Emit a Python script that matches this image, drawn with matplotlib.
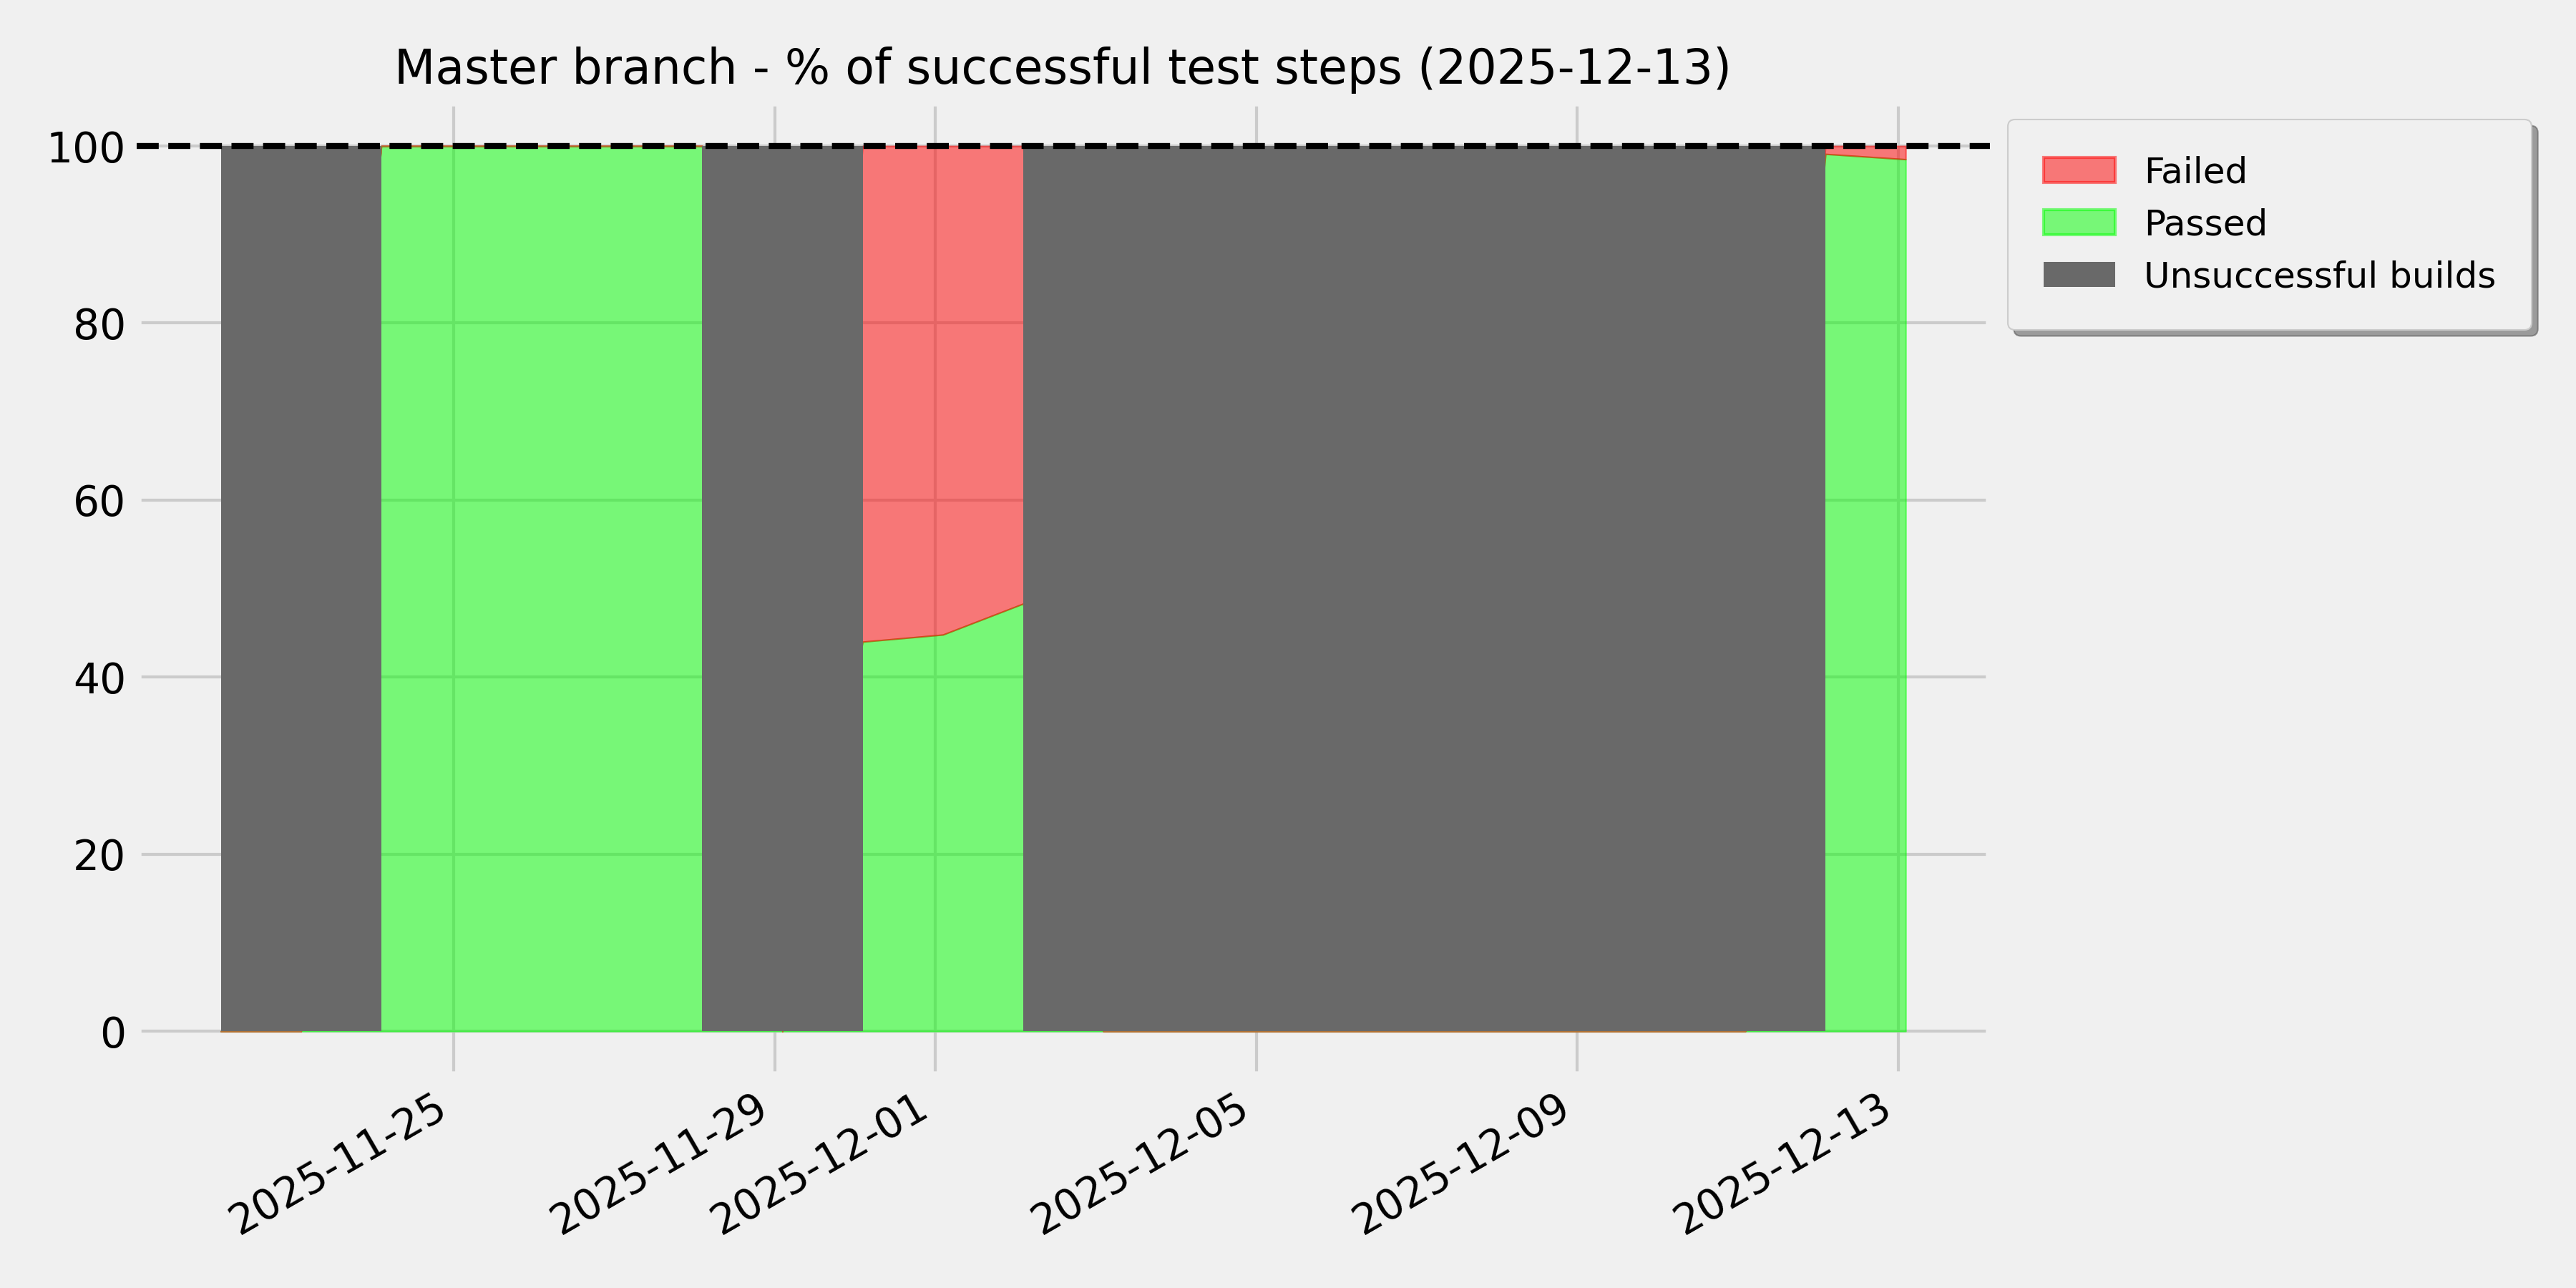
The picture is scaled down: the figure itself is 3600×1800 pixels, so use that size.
import matplotlib
matplotlib.use("Agg")
import matplotlib.pyplot as plt
import matplotlib.patches as mpatches
import pandas as pd

# daily build results, master branch
dates = pd.date_range("2025-11-22 02:15", "2025-12-13 02:15", freq="D")
build_ok = [0, 0, 1, 1, 1, 1, 1, 0, 1, 1, 1, 0, 0, 0, 0, 0, 0, 0, 0, 0, 1, 1]
passed = [0, 0, 100, 100, 100, 100, 100, 0, 44.0, 44.8, 48.3,
          0, 0, 0, 0, 0, 0, 0, 0, 0, 99.1, 98.5]
failed = [0, 0, 0, 0, 0, 0, 0, 0, 56.0, 55.2, 51.7,
          0, 0, 0, 0, 0, 0, 0, 0, 0, 0.9, 1.5]

plt.style.use("fivethirtyeight")

fig, ax = plt.subplots(figsize=(12, 6), dpi=300)

top = [p + f for p, f in zip(passed, failed)]
ax.fill_between(dates, 0, passed, color="lime", alpha=0.5, lw=0.5)
ax.fill_between(dates, passed, top, color="red", alpha=0.5, lw=0.5)

# grey blocks over days without a successful build
n = len(dates)
i = 0
while i < n:
    if build_ok[i]:
        i += 1
        continue
    j = i
    while j < n and not build_ok[j]:
        j += 1
    start = dates[i - 1] if i > 0 else dates[i]
    end = dates[j] if j < n else dates[n - 1]
    ax.fill_between([start, end], 0, 100, facecolor="dimgray", lw=0, zorder=3)
    i = j

ax.axhline(100, color="black", ls="--", lw=2, zorder=4)

ax.set_title("Master branch - % of successful test steps (2025-12-13)", fontsize=16)
fig.autofmt_xdate()
fig.subplots_adjust(left=0.053, right=0.7725, top=0.921, bottom=0.165)

handles = [
    mpatches.Patch(facecolor=(1, 0, 0, 0.5), edgecolor=(1, 0, 0, 0.5), lw=1, label="Failed"),
    mpatches.Patch(facecolor=(0, 1, 0, 0.5), edgecolor=(0, 1, 0, 0.5), lw=1, label="Passed"),
    mpatches.Patch(facecolor="dimgray", label="Unsuccessful builds"),
]
ax.legend(handles=handles, loc="upper left", bbox_to_anchor=(1.0, 1.0),
          fontsize=12, shadow=True, borderpad=1)

plt.savefig("out.png", dpi=300)
